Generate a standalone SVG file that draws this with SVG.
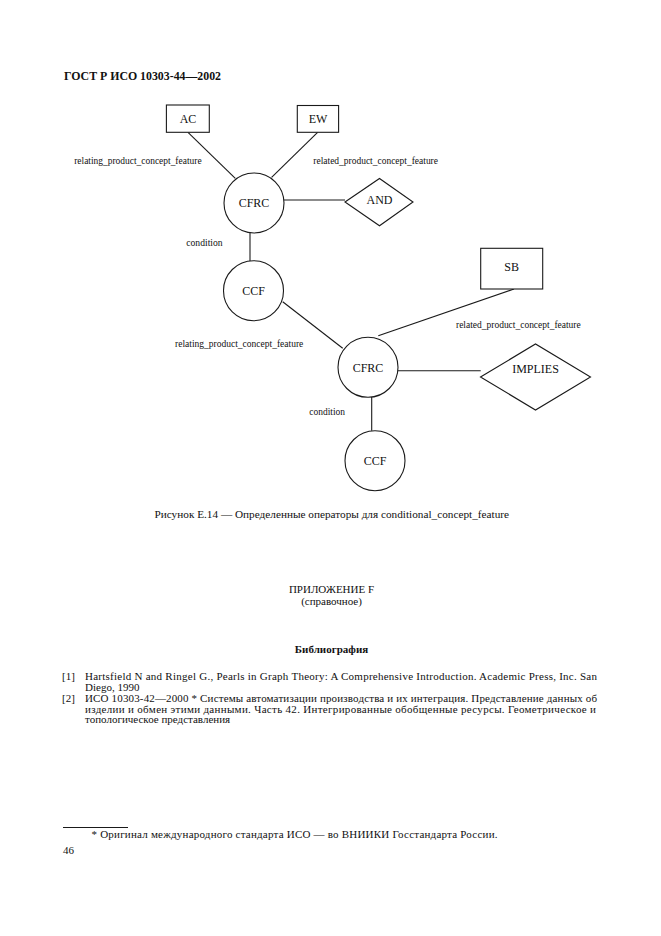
<svg xmlns="http://www.w3.org/2000/svg" width="661" height="936" viewBox="0 0 661 936">
  <style>
    .bg { fill: #ffffff; }
    .shape { fill: #ffffff; stroke: #1a1a1a; stroke-width: 1.1; }
    .edge { stroke: #1a1a1a; stroke-width: 1.1; fill: none; }
    .node { font-family: "Liberation Serif", "Times New Roman", serif; font-size: 12px; fill: #111; text-anchor: middle; }
    .lbl { font-family: "Liberation Serif", "Times New Roman", serif; font-size: 9.5px; fill: #111; }
    .body { font-family: "Liberation Serif", "Times New Roman", serif; font-size: 11px; fill: #111; }
    .bold { font-family: "Liberation Serif", "Times New Roman", serif; font-weight: bold; fill: #111; }
    .mid { text-anchor: middle; }
  </style>
  <rect class="bg" x="0" y="0" width="661" height="936"/>

  <text class="bold" x="64" y="79.5" font-size="12" textLength="157" lengthAdjust="spacingAndGlyphs">ГОСТ Р ИСО 10303-44—2002</text>

  <g id="connectors">
    <line class="edge" x1="188" y1="132.3" x2="235.3" y2="178.3"/>
    <line class="edge" x1="317.6" y1="132.3" x2="271.6" y2="177.3"/>
    <line class="edge" x1="284" y1="200" x2="345" y2="200"/>
    <line class="edge" x1="250" y1="233" x2="250" y2="261"/>
    <line class="edge" x1="282.7" y1="301.7" x2="342.7" y2="348.3"/>
    <line class="edge" x1="514" y1="289" x2="378.3" y2="335.7"/>
    <line class="edge" x1="398" y1="370.7" x2="480.7" y2="370.7"/>
    <line class="edge" x1="371.7" y1="397" x2="371.7" y2="430.7"/>
    <g id="edge-labels">
      <text class="lbl" x="74.2" y="163.5" textLength="127.4" lengthAdjust="spacingAndGlyphs">relating_product_concept_feature</text>
      <text class="lbl" x="313.3" y="163.5" textLength="124.7" lengthAdjust="spacingAndGlyphs">related_product_concept_feature</text>
      <text class="lbl" x="186.3" y="245.5" textLength="36.3" lengthAdjust="spacingAndGlyphs">condition</text>
      <text class="lbl" x="456" y="328" textLength="124.7" lengthAdjust="spacingAndGlyphs">related_product_concept_feature</text>
      <text class="lbl" x="175" y="347" textLength="128.3" lengthAdjust="spacingAndGlyphs">relating_product_concept_feature</text>
      <text class="lbl" x="309.3" y="414.5" textLength="35.7" lengthAdjust="spacingAndGlyphs">condition</text>
    </g>
  </g>

  <g id="node-AC">
    <rect class="shape" x="166.4" y="105" width="42.9" height="27.3"/>
    <text class="node" x="188" y="122.5">AC</text>
  </g>
  <g id="node-EW">
    <rect class="shape" x="297.3" y="105.5" width="41.3" height="26.8"/>
    <text class="node" x="318" y="122.5">EW</text>
  </g>
  <g id="node-CFRC1">
    <circle class="shape" cx="254" cy="203" r="30"/>
    <text class="node" x="254" y="207">CFRC</text>
  </g>
  <g id="node-AND">
    <polygon class="shape" points="345,202 379.5,178.5 413,202 379.5,225.8"/>
    <text class="node" x="379.5" y="203.5">AND</text>
  </g>
  <g id="node-CCF1">
    <circle class="shape" cx="253.5" cy="290.7" r="30"/>
    <text class="node" x="253.5" y="295">CCF</text>
  </g>
  <g id="node-SB">
    <rect class="shape" x="480.7" y="248.3" width="62" height="40.7"/>
    <text class="node" x="511.7" y="271">SB</text>
  </g>
  <g id="node-CFRC2">
    <circle class="shape" cx="368" cy="367.3" r="30"/>
    <text class="node" x="368" y="371.5">CFRC</text>
  </g>
  <g id="node-IMPLIES">
    <polygon class="shape" points="480.5,377 535.5,344 590.5,377 535.5,410"/>
    <text class="node" x="535.5" y="372.5">IMPLIES</text>
  </g>
  <g id="node-CCF2">
    <circle class="shape" cx="375" cy="460.7" r="30"/>
    <text class="node" x="375" y="465">CCF</text>
  </g>

  <g id="page-text">
    <text class="body" x="154.5" y="517.5" textLength="354.5" lengthAdjust="spacingAndGlyphs">Рисунок Е.14 — Определенные операторы для conditional_concept_feature</text>
    <text class="body mid" x="331.5" y="593">ПРИЛОЖЕНИЕ F</text>
    <text class="body mid" x="331.5" y="605">(справочное)</text>
    <text class="bold mid" x="331.5" y="653" font-size="11">Библиография</text>

    <text class="body" x="62" y="679.5">[1]</text>
    <text class="body" x="85" y="679.5" textLength="512" lengthAdjust="spacing">Hartsfield N and Ringel G., Pearls in Graph Theory: A Comprehensive Introduction. Academic Press, Inc. San</text>
    <text class="body" x="85" y="690.5">Diego, 1990</text>
    <text class="body" x="62" y="701.5">[2]</text>
    <text class="body" x="85" y="701.5" textLength="512" lengthAdjust="spacing">ИСО 10303-42—2000 * Системы автоматизации производства и их интеграция. Представление данных об</text>
    <text class="body" x="85" y="712.5" textLength="511" lengthAdjust="spacing">изделии и обмен этими данными. Часть 42. Интегрированные обобщенные ресурсы. Геометрическое и</text>
    <text class="body" x="85" y="723">топологическое представления</text>

    <line class="edge" x1="63" y1="827.5" x2="128" y2="827.5"/>
    <text class="body" x="91.5" y="838" textLength="406" lengthAdjust="spacing">* Оригинал международного стандарта ИСО — во ВНИИКИ Госстандарта России.</text>
    <text class="body" x="63" y="854">46</text>
  </g>
</svg>
